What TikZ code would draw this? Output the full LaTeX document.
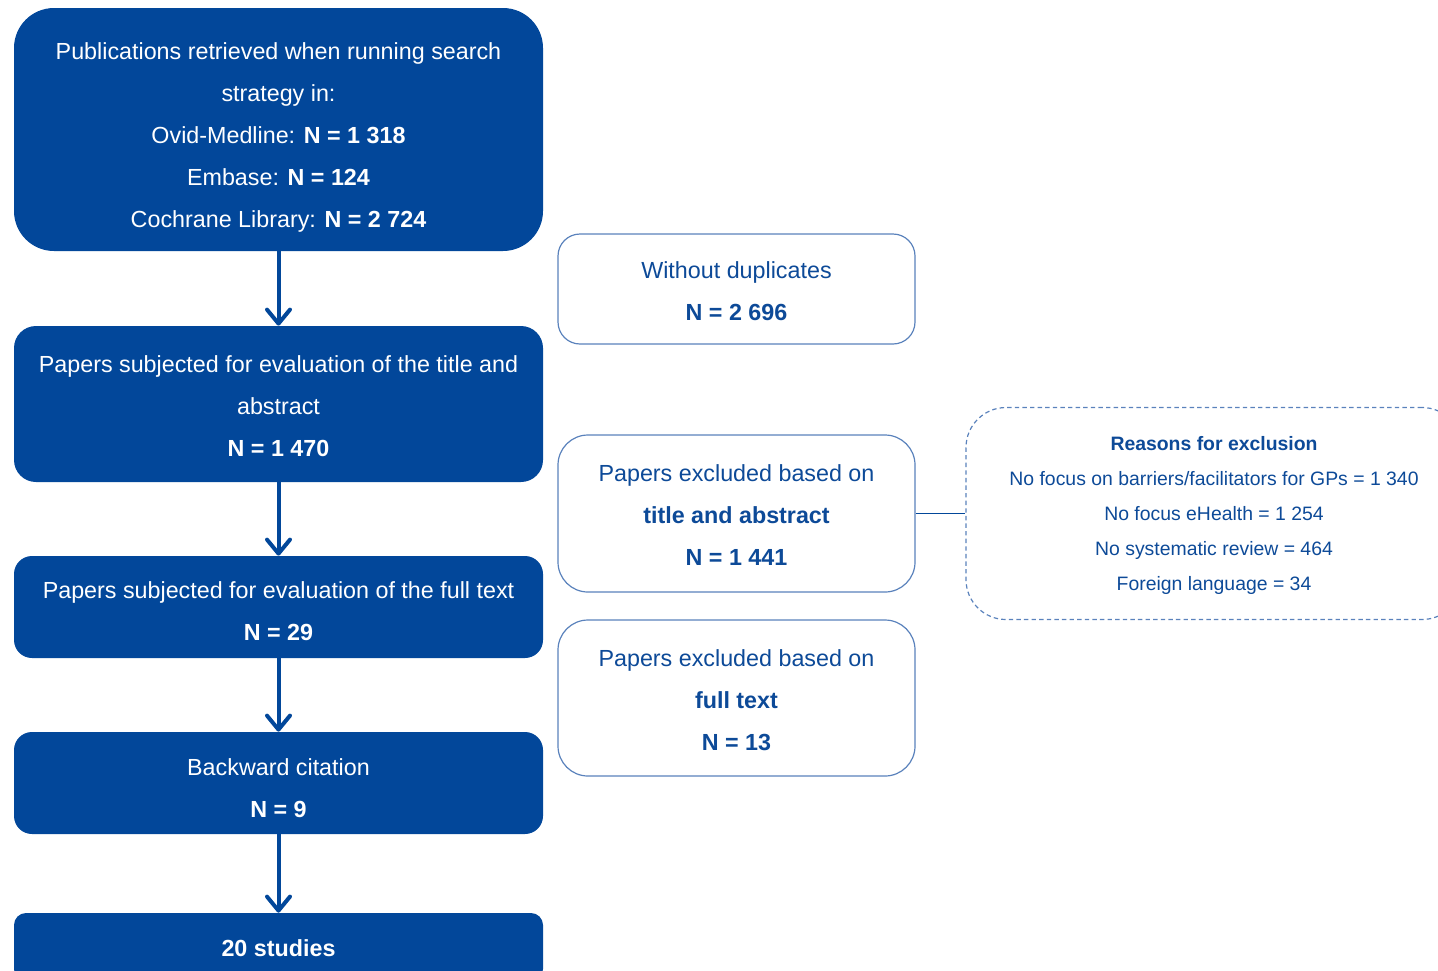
\documentclass[tikz,border=0pt]{standalone}
\usepackage{fontspec}
\setmainfont{Liberation Sans}
\usetikzlibrary{arrows.meta}
\definecolor{navy}{HTML}{02479A}
\definecolor{frame}{HTML}{5A82BC}
\definecolor{ink}{HTML}{0D4A98}
\tikzset{
  mainfont/.style={font=\fontsize{11.65}{21}\selectfont},
  stage/.style={fill=navy, draw=none, minimum width={529*0.5pt}, inner sep=0pt},
  stagetext/.style={mainfont, text=white, align=center, inner sep=0pt},
  sidebox/.style={draw=frame, line width=0.6pt, fill=white,
    minimum width={357*0.5pt}, inner sep=0pt},
  sidetext/.style={mainfont, text=ink, align=center, inner sep=0pt},
  reasonbox/.style={draw=frame, line width=0.6pt,
    dash pattern=on 2.2pt off 1.6pt, inner sep=0pt},
  reasontext/.style={font=\fontsize{9.7}{17.5}\selectfont, text=ink,
    align=center, inner sep=0pt},
  flow/.style={draw=navy, line width=2pt,
    -{Straight Barb[length=7pt,width=11.5pt,round]}},
  link/.style={draw=navy, line width=0.6pt},
}
\begin{document}
\begin{tikzpicture}[x=0.5pt,y=-0.5pt]
\useasboundingbox (0,0) rectangle (1438,970);
\clip (0,0) rectangle (1438,970);

% main flow down the left column
\node[stage, minimum height={243*0.5pt}, rounded corners=20pt] (search) at (278.5,129.5) {};
\node[stage, minimum height={156*0.5pt}, rounded corners=11pt] (screen) at (278.5,404) {};
\node[stage, minimum height={102*0.5pt}, rounded corners=9pt] (fulltext) at (278.5,607) {};
\node[stage, minimum height={102*0.5pt}, rounded corners=9pt] (backward) at (278.5,783) {};
\node[stage, minimum height={68*0.5pt}, rounded corners=6pt] (final) at (278.5,947) {};

\node[stagetext] (searchtext) at ([yshift=-4pt]search.center)
  {Publications retrieved when running search\\
   strategy in:\\
   Ovid-Medline: \textbf{N = 1 318}\\
   Embase: \textbf{N = 124}\\
   Cochrane Library: \textbf{N = 2 724}};
\node[stagetext] (screentext) at ([yshift=-1pt]screen.center)
  {Papers subjected for evaluation of the title and\\
   abstract\\
   \textbf{N = 1 470}};
\node[stagetext] (fulltexttext) at ([yshift=-2pt]fulltext.center)
  {Papers subjected for evaluation of the full text\\
   \textbf{N = 29}};
\node[stagetext] (backwardtext) at ([yshift=-2.5pt]backward.center)
  {Backward citation\\
   \textbf{N = 9}};
\node[stagetext] (finaltext) at ([yshift=-0.5pt]final.center)
  {\textbf{20 studies}};

\draw[flow] (search) -- (screen);
\draw[flow] (screen) -- (fulltext);
\draw[flow] (fulltext) -- (backward);
\draw[flow] (backward) -- (final.north);

% side boxes with the excluded counts
\node[sidebox, minimum height={110*0.5pt}, rounded corners=11pt] (dupes) at (736.5,289) {};
\node[sidebox, minimum height={157*0.5pt}, rounded corners=15pt] (extab) at (736.5,513.5) {};
\node[sidebox, minimum height={156*0.5pt}, rounded corners=15pt] (exfull) at (736.5,698) {};

\node[sidetext] (dupestext) at ([yshift=-1pt]dupes.center)
  {Without duplicates\\
   \textbf{N = 2 696}};
\node[sidetext] (extabtext) at ([yshift=-1pt]extab.center)
  {Papers excluded based on\\
   \textbf{title and abstract}\\
   \textbf{N = 1 441}};
\node[sidetext] (exfulltext) at ([yshift=-1.2pt]exfull.center)
  {Papers excluded based on\\
   \textbf{full text}\\
   \textbf{N = 13}};

% breakdown of the title/abstract exclusions
\node[reasonbox, minimum width={496*0.5pt}, minimum height={212*0.5pt},
      rounded corners=20pt] (reasons) at (1214,513.5) {};
\node[reasontext] (reasonstext) at ([yshift=-1pt]reasons.center)
  {\textbf{Reasons for exclusion}\\
   No focus on barriers/facilitators for GPs = 1 340\\
   No focus eHealth = 1 254\\
   No systematic review = 464\\
   Foreign language = 34};

\draw[link] (extab.east) -- (extab.east -| reasons.west);
\end{tikzpicture}
\end{document}
